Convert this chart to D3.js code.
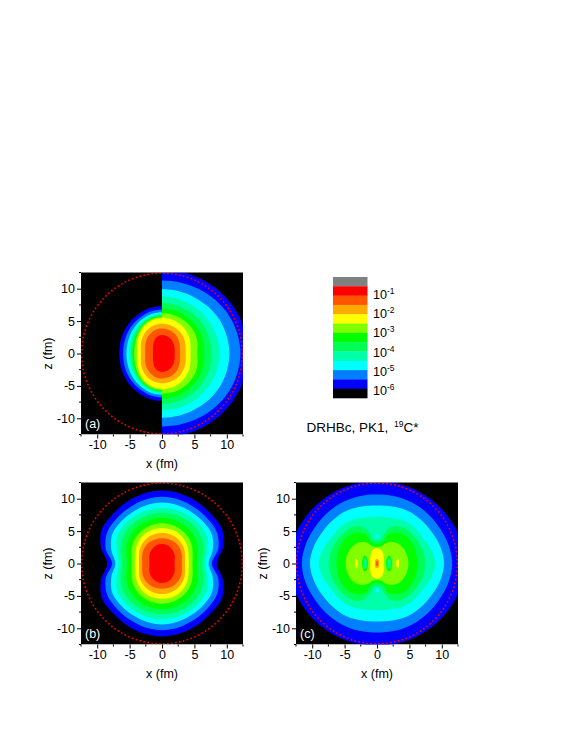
<!DOCTYPE html>
<html>
<head>
<meta charset="utf-8">
<script src="https://cdn.jsdelivr.net/npm/d3@7"></script>
<style>
  html, body { margin: 0; padding: 0; background: #fff; }
  svg { display: block; }
  text { font-family: "Liberation Sans", Arial, sans-serif; fill: #000; }
</style>
</head>
<body>
<svg id="chart" width="581" height="752"></svg>
<script>
// colour levels, top of the legend first
var legendColors = ["#808080", "#ff0000", "#ff5500", "#ffaa00", "#ffff00", "#80ff00", "#00ff00", "#00ff55", "#00ffaa", "#00ffff", "#0080ff", "#0000ff", "#000000"];
var legendExponents = [-1, -2, -3, -4, -5, -6];
var axisTicks = [-10, -5, 0, 5, 10];
var minorTicks = [-12.5, -7.5, -2.5, 2.5, 7.5, 12.5];
var sphereRadius = 12.4;

// contour outlines: distance from the centre in fm at
// each of these angles (degrees from the z axis), first quadrant only.
var contourAngles = [0, 15, 30, 45, 60, 75, 90];

// outermost level first
var levelColors = ["#0000ff", "#0080ff", "#00ffff", "#00ffaa", "#00ff55", "#00ff00", "#80ff00", "#ffff00", "#ffaa00", "#ff5500", "#ff0000"];

var radiiALeft = [
  [7.3, 7.25, 7.1, 6.95, 6.8, 6.65, 6.6],
  [6.75, 6.7, 6.5, 6.35, 6.2, 6.05, 6],
  [6.35, 6.3, 6.1, 5.9, 5.7, 5.55, 5.5],
  [6.1, 6, 5.8, 5.55, 5.3, 5.15, 5.1],
  [5.95, 5.85, 5.6, 5.3, 5.05, 4.85, 4.8],
  [5.8, 5.7, 5.45, 5.1, 4.8, 4.6, 4.55],
  [5.65, 5.55, 5.3, 4.95, 4.6, 4.38, 4.3],
  [5.45, 5.35, 5.1, 4.72, 4.32, 3.98, 3.85],
  [4.6, 4.53, 4.33, 4.02, 3.7, 3.38, 3.25],
  [3.85, 3.78, 3.55, 3.27, 2.96, 2.7, 2.6],
  [2.85, 2.72, 2.35, 1.92, 1.62, 1.45, 1.4]
];
var radiiARight = [
  [12.9, 12.95, 13, 13.1, 13.2, 13.25, 13.3],
  [11.25, 11.3, 11.45, 11.65, 11.85, 12, 12.1],
  [9.9, 9.95, 10, 10.15, 10.3, 10.35, 10.4],
  [8.8, 8.8, 8.8, 8.8, 8.8, 8.85, 8.85],
  [7.8, 7.8, 7.75, 7.75, 7.7, 7.65, 7.65],
  [6.95, 6.93, 6.87, 6.8, 6.72, 6.6, 6.5],
  [6.2, 6.2, 6.17, 6.08, 5.96, 5.68, 5.45],
  [5.5, 5.47, 5.33, 5.12, 4.88, 4.55, 4.4],
  [4.6, 4.55, 4.45, 4.28, 4.05, 3.78, 3.65],
  [3.85, 3.8, 3.65, 3.42, 3.12, 2.88, 2.8],
  [2.85, 2.8, 2.65, 2.42, 2.2, 2.02, 1.95]
];
var radiiB = [
  [11.25, 11.15, 10.95, 10.75, 10.7, 9.75, 8.45],
  [10.3, 10.2, 10, 9.85, 9.75, 9, 7.7],
  [9.4, 9.3, 9.15, 9.05, 8.9, 8.1, 7.2],
  [8.6, 8.55, 8.45, 8.35, 8.05, 7.2, 6.7],
  [7.85, 7.8, 7.7, 7.55, 7.2, 6.6, 6.2],
  [7.05, 7, 6.85, 6.6, 6.22, 5.7, 5.4],
  [6.2, 6.15, 5.98, 5.72, 5.33, 4.9, 4.7],
  [5.45, 5.42, 5.3, 5, 4.62, 4.25, 4.15],
  [4.7, 4.66, 4.55, 4.33, 4.02, 3.68, 3.55],
  [3.9, 3.88, 3.82, 3.68, 3.45, 3.18, 3.05],
  [3, 2.94, 2.78, 2.53, 2.27, 2.02, 1.95]
];
var radiiC = [
  [12.65, 12.75, 12.85, 13, 13.2, 13.45, 13.6],
  [10.65, 10.75, 10.85, 10.95, 11.1, 11.4, 11.6],
  [8.95, 9.1, 9.4, 9.55, 9.75, 10.1, 10.35],
  [7.2, 7.35, 7.75, 8, 8.1, 8.6, 9]
];
// the waisted inner levels of panel c, as [x, z] in fm from z axis to x axis
var contoursCInner = [
  ["#00ff55", [[0,3.55],[0.5,3.6],[1,4.4],[1.7,5.3],[2.8,5.8],[4.3,5.4],[5.7,4.2],[6.8,2.6],[7.3,1.2],[7.45,0]]],
  ["#00ff00", [[0,3.05],[0.8,3.2],[1.2,3.7],[1.6,4.4],[2.5,4.75],[3.8,4.6],[5,3.7],[5.8,2.4],[6.15,1.1],[6.25,0]]],
  ["#80ff00", [[0,2.55],[0.7,2.65],[1.3,3.1],[2.2,3.3],[3.2,3.1],[4.1,2.3],[4.65,1.2],[4.85,0]]],
  ["#ffff00", [[0,2.35],[0.65,2.1],[1,1.3],[1.05,0]]]
];
// small closed islands of panel c: colour, centre x, centre z, half widths
var islandColors = ["#00ffaa", "#00ffff", "#00ff00", "#00ff55", "#00ffaa", "#ffff00", "#ffaa00", "#ff5500"];
var islandX =  [0, 0, 1.85, 1.85, 1.85, 3.2, 0, 0];
var islandZ =  [4.15, 4.15, 0, 0, 0, 0, 0, 0];
var islandRx = [0.55, 0.3, 0.42, 0.3, 0.15, 0.2, 0.28, 0.12];
var islandRz = [0.55, 0.3, 1.2, 0.95, 0.6, 0.65, 0.7, 0.4];

var svg = d3.select("#chart");

var panelSize = 162;
var x = d3.scaleLinear().domain([-12.5, 12.5]).range([0, panelSize]);
var z = d3.scaleLinear().domain([-12.5, 12.5]).range([panelSize, 0]);
var w = d3.scaleLinear().domain([0, 25]).range([0, panelSize]);

var outline = d3.line()
  .x(d => x(d[0]))
  .y(d => z(d[1]))
  .curve(d3.curveCatmullRomClosed.alpha(0.5));

// mirror a first quadrant outline into a whole closed one
function wholeContour(q){
  var tr = q.slice(0, -1).reverse().map(d => [d[0], -d[1]]);
  var bl = q.slice(1).map(d => [-d[0], -d[1]]);
  var tl = q.slice(1, -1).reverse().map(d => [-d[0], d[1]]);
  return q.concat(tr, bl, tl);
}

// radii at contourAngles -> first quadrant [x, z]
function fromRadii(radii){
  return radii.map(function(r, i){
    var a = contourAngles[i] * Math.PI / 180;
    return [r * Math.sin(a), r * Math.cos(a)];
  });
}

function radiiLevels(radii){
  return radii.map((r, i) => [levelColors[i], fromRadii(r)]);
}

function drawContours(g, levels){
  g.selectAll(null)
    .data(levels)
    .enter().append("path")
    .attr("d", d => outline(wholeContour(d[1])))
    .attr("fill", d => d[0]);
}

function makePanel(id, left, top, label){
  var g = svg.append("g").attr("transform", "translate(" + left + "," + top + ")");

  g.append("clipPath").attr("id", "clip" + id)
    .append("rect").attr("width", panelSize).attr("height", panelSize);

  var body = g.append("g").attr("clip-path", "url(#clip" + id + ")");
  body.append("rect").attr("width", panelSize).attr("height", panelSize).attr("fill", "#000");

  // axes
  var xAxis = g.append("g").attr("transform", "translate(0," + panelSize + ")")
    .call(d3.axisBottom(x).tickValues(axisTicks).tickSize(4).tickPadding(2).tickFormat(d => d));
  var zAxis = g.append("g")
    .call(d3.axisLeft(z).tickValues(axisTicks).tickSize(4).tickPadding(2).tickFormat(d => d));
  [xAxis, zAxis].forEach(function(a){
    a.select(".domain").remove();
    a.selectAll("text").attr("font-size", 12.5).attr("font-family", "Liberation Sans").attr("fill", "#000");
  });
  g.selectAll(null).data(minorTicks).enter().append("line")
    .attr("x1", d => x(d)).attr("x2", d => x(d))
    .attr("y1", panelSize).attr("y2", panelSize + 2).attr("stroke", "#000");
  g.selectAll(null).data(minorTicks).enter().append("line")
    .attr("y1", d => z(d)).attr("y2", d => z(d))
    .attr("x1", -2).attr("x2", 0).attr("stroke", "#000");

  g.append("text").attr("x", panelSize / 2).attr("y", panelSize + 33)
    .attr("text-anchor", "middle").attr("font-size", 12.5).text("x (fm)");
  g.append("text").attr("transform", "translate(-29," + (panelSize / 2) + ") rotate(-90)")
    .attr("text-anchor", "middle").attr("font-size", 12.5).text("z (fm)");

  return {g: g, body: body, label: label};
}

function finishPanel(p){
  p.body.append("circle")
    .attr("cx", x(0)).attr("cy", z(0)).attr("r", w(sphereRadius))
    .attr("fill", "none").attr("stroke", "#ff0000").attr("stroke-width", 1.7)
    .attr("stroke-linecap", "round")
    .attr("stroke-dasharray", "0.1 3.9");
  // thin grey top edge seen on the frames
  p.g.append("line").attr("x1", 0).attr("x2", panelSize)
    .attr("y1", 0).attr("y2", 0).attr("stroke", "#808080").attr("stroke-width", 1);
  p.g.append("text").attr("x", 4).attr("y", 155)
    .attr("font-size", 12.5).style("fill", "#fff").text(p.label);
}

// panel a: two halves
var panelA = makePanel("a", 81, 272.5, "(a)");
var leftHalf = panelA.body.append("g");
var rightHalf = panelA.body.append("g");
svg.append("clipPath").attr("id", "halfL")
  .append("rect").attr("x", x(-12.5)).attr("y", 0).attr("width", w(12.5)).attr("height", panelSize);
svg.append("clipPath").attr("id", "halfR")
  .append("rect").attr("x", x(0)).attr("y", 0).attr("width", w(12.5)).attr("height", panelSize);
leftHalf.attr("clip-path", "url(#halfL)");
rightHalf.attr("clip-path", "url(#halfR)");
drawContours(leftHalf, radiiLevels(radiiALeft));
drawContours(rightHalf, radiiLevels(radiiARight));
finishPanel(panelA);

// panel b
var panelB = makePanel("b", 81, 482.5, "(b)");
drawContours(panelB.body, radiiLevels(radiiB));
finishPanel(panelB);

// panel c, with its islands
var panelC = makePanel("c", 296, 482.5, "(c)");
drawContours(panelC.body, radiiLevels(radiiC));
drawContours(panelC.body, contoursCInner);
var signs = [[1, 1], [1, -1], [-1, 1], [-1, -1]];
islandColors.forEach(function(col, i){
  signs.forEach(function(s){
    panelC.body.append("ellipse")
      .attr("cx", x(s[0] * islandX[i])).attr("cy", z(s[1] * islandZ[i]))
      .attr("rx", w(islandRx[i])).attr("ry", w(islandRz[i]))
      .attr("fill", col);
  });
});
finishPanel(panelC);

// colour legend
var legend = svg.append("g");
var legendY = d3.scaleBand().domain(d3.range(legendColors.length)).range([277, 398]);
legend.selectAll("rect").data(legendColors).enter().append("rect")
  .attr("x", 333).attr("width", 34.5)
  .attr("y", (d, i) => legendY(i)).attr("height", legendY.bandwidth() + 0.3)
  .attr("fill", d => d);

var expY = d3.scalePoint().domain(legendExponents).range([299, 395]);
var labels = legend.selectAll("text").data(legendExponents).enter().append("text")
  .attr("x", 373).attr("y", d => expY(d)).attr("font-size", 12.6);
labels.append("tspan").text("10");
labels.append("tspan").attr("dy", -5).attr("font-size", 8.5).text(d => d);

// caption
var caption = svg.append("text").attr("x", 306.5).attr("y", 431.5).attr("font-size", 13.5);
caption.append("tspan").text("DRHBc, PK1,  ");
caption.append("tspan").attr("dx", 2).attr("dy", -5).attr("font-size", 8.5).text("19");
caption.append("tspan").attr("dy", 5).text("C*");
</script>
</body>
</html>
